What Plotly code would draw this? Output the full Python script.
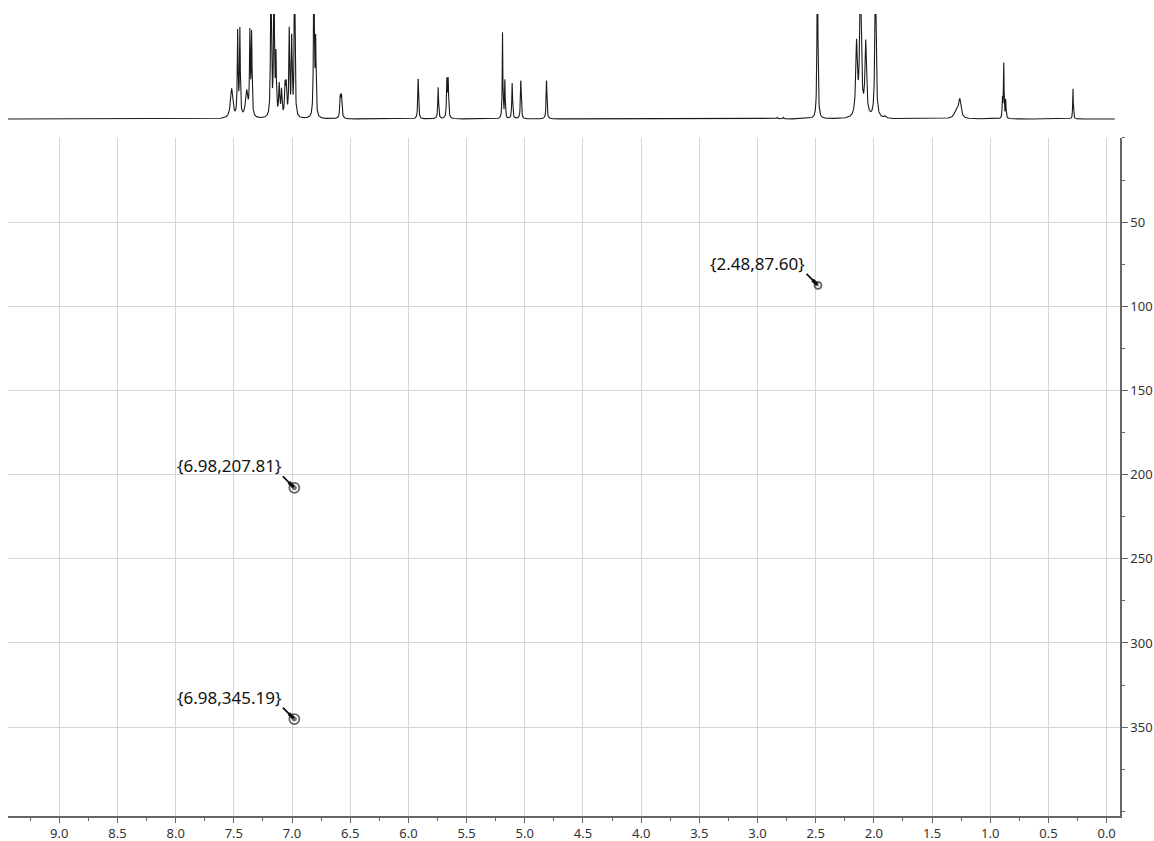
import numpy as np
import plotly.graph_objects as go

# 1D proton projection: peak table (ppm, relative height, half-width in ppm)
peak_ppm = [7.519, 7.467, 7.448, 7.390, 7.362, 7.347, 7.181, 7.155, 7.138,
            7.110, 7.090, 7.060, 7.050, 7.024, 7.003, 6.978, 6.812, 6.797,
            6.585, 6.575, 5.916, 5.744, 5.669, 5.658, 5.191, 5.171, 5.108,
            5.034, 4.813, 2.830, 2.780, 2.485, 2.149, 2.115, 2.070, 1.986,
            1.906, 1.290, 1.262, 0.895, 0.884, 0.867, 0.289]
peak_height = [0.28, 0.80, 0.82, 0.25, 0.78, 0.78, 1.60, 1.60, 0.55,
               0.30, 0.25, 0.28, 0.28, 0.82, 0.75, 1.60, 1.60, 0.70,
               0.20, 0.20, 0.39, 0.30, 0.36, 0.36, 0.82, 0.36, 0.34,
               0.37, 0.37, 0.015, 0.015, 1.80, 0.68, 1.40, 0.70, 1.50,
               0.02, 0.08, 0.17, 0.18, 0.52, 0.18, 0.29]
peak_width = [0.012, 0.004, 0.004, 0.012, 0.004, 0.004, 0.004, 0.004, 0.004,
              0.005, 0.005, 0.005, 0.005, 0.004, 0.004, 0.004, 0.004, 0.004,
              0.005, 0.005, 0.004, 0.004, 0.004, 0.004, 0.003, 0.003, 0.004,
              0.004, 0.004, 0.005, 0.005, 0.004, 0.008, 0.008, 0.008, 0.006,
              0.010, 0.020, 0.012, 0.003, 0.003, 0.003, 0.003]

# 2D cross peaks (F2 ppm, F1 ppm)
cross_f2 = [2.48, 6.98, 6.98]
cross_f1 = [87.60, 207.81, 345.19]

x_major = [9.0, 8.5, 8.0, 7.5, 7.0, 6.5, 6.0, 5.5, 5.0, 4.5, 4.0, 3.5, 3.0,
           2.5, 2.0, 1.5, 1.0, 0.5, 0.0]
y_major = [50, 100, 150, 200, 250, 300, 350]

ppm = np.linspace(9.44, -0.07, 7000)
spec = np.zeros_like(ppm)
for c, h, w in zip(peak_ppm, peak_height, peak_width):
    spec += h * w**2 / ((ppm - c)**2 + w**2)

FONT = "Noto Sans"
GRID = "#d6d6d6"
AXIS = "#666666"

fig = go.Figure()

fig.add_trace(go.Scatter(
    x=ppm, y=spec, xaxis="x2", yaxis="y2", mode="lines",
    line=dict(color="#1a1a1a", width=1.1), hoverinfo="skip", showlegend=False))

# contour-like cross peaks
fig.add_trace(go.Scatter(
    x=cross_f2, y=cross_f1, mode="markers",
    marker=dict(symbol="circle-open", size=[7, 10, 10], color="#222222",
                line=dict(width=1.8, color="#222222")),
    showlegend=False, hoverinfo="skip"))
fig.add_trace(go.Scatter(
    x=cross_f2, y=cross_f1, mode="markers",
    marker=dict(symbol="circle", size=[3, 6, 6], color="#3a3a3a"),
    showlegend=False, hoverinfo="skip"))

for xv, yv in zip(cross_f2, cross_f1):
    # tapered pointer from the label corner to the peak
    fig.add_annotation(
        x=xv, y=yv, xref="x", yref="y", text="",
        showarrow=True, ax=-13, ay=-13, axref="pixel", ayref="pixel",
        arrowhead=0, arrowwidth=1.8, arrowcolor="#111111", standoff=1)
    fig.add_annotation(
        x=xv, y=yv, xref="x", yref="y", text="",
        showarrow=True, ax=-7, ay=-7, axref="pixel", ayref="pixel",
        arrowhead=0, arrowwidth=3.6, arrowcolor="#111111", standoff=1)
    fig.add_annotation(
        x=xv, y=yv, xref="x", yref="y",
        text="{%.2f,%.2f}" % (xv, yv), showarrow=False,
        xanchor="right", yanchor="middle", xshift=-11, yshift=22,
        font=dict(family=FONT, size=17, color="#111111"))

fig.update_layout(
    width=1154, height=841,
    margin=dict(l=8, r=34, t=0, b=25),
    paper_bgcolor="white", plot_bgcolor="white",
    showlegend=False,
    xaxis=dict(
        domain=[0, 1], range=[9.4406, -0.115], anchor="y",
        tickmode="array", tickvals=x_major, tickformat=".1f",
        ticks="outside", ticklen=5, tickwidth=1, tickcolor=AXIS,
        minor=dict(dtick=0.25, tick0=0, ticks="outside", ticklen=3,
                   tickcolor=AXIS, showgrid=False),
        showline=True, linecolor=AXIS, linewidth=1.5,
        showgrid=True, gridcolor=GRID, gridwidth=1, zeroline=False,
        tickfont=dict(family=FONT, size=13, color="#333333")),
    yaxis=dict(
        domain=[0, 0.8309], range=[402.8, 0], side="right", anchor="x",
        tickmode="array", tickvals=y_major,
        ticks="outside", ticklen=6, tickwidth=1, tickcolor=AXIS,
        minor=dict(dtick=25, tick0=0, ticks="outside", ticklen=3,
                   tickcolor=AXIS, showgrid=False),
        showline=True, linecolor=AXIS, linewidth=1.5, mirror=False,
        showgrid=True, gridcolor=GRID, gridwidth=1, zeroline=False,
        tickfont=dict(family=FONT, size=13, color="#333333")),
    xaxis2=dict(
        domain=[0, 1], matches="x", anchor="y2", visible=False,
        showgrid=False, zeroline=False),
    yaxis2=dict(
        domain=[0.8529, 0.9828], range=[-0.01, 1.0], anchor="x2",
        visible=False, showgrid=False, zeroline=False),
)

fig.write_html("out.html")
